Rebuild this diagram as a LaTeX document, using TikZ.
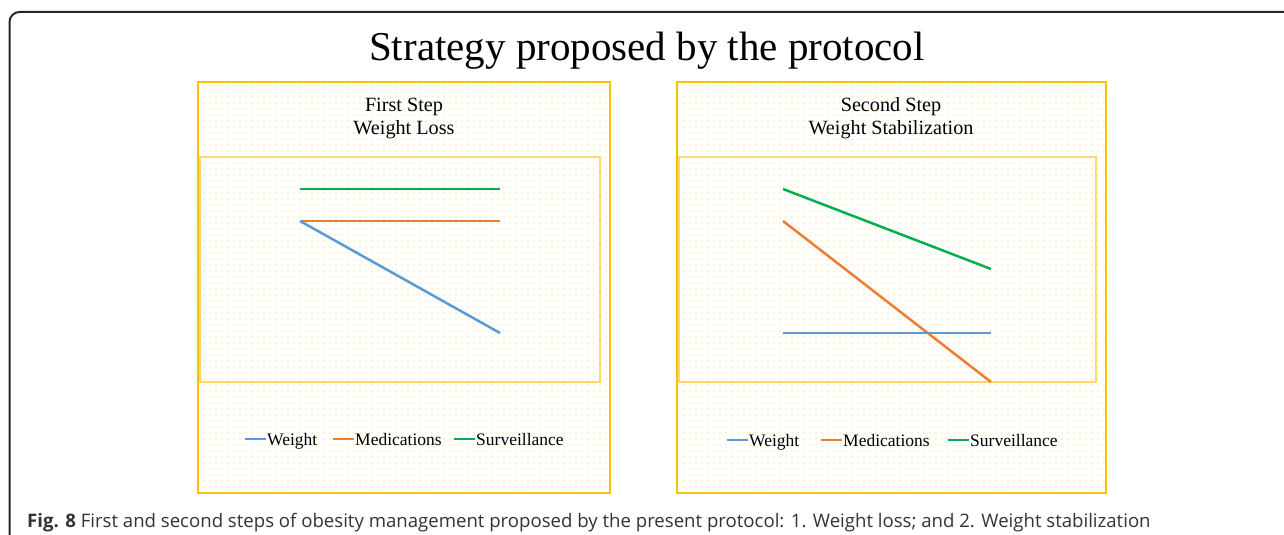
\documentclass[tikz,border=0pt]{standalone}
\usepackage{fontspec}
\setmainfont{Liberation Serif}
\newfontfamily\capfont{Open Sans}
\usepackage{tikz}
\usetikzlibrary{patterns.meta}
\definecolor{gold}{HTML}{FFC000}
\definecolor{goldlight}{HTML}{FFD966}
\definecolor{wblue}{HTML}{5B9BD5}
\definecolor{morange}{HTML}{ED7D31}
\definecolor{sgreen}{HTML}{00B050}

\begin{document}
\begin{tikzpicture}[x=1pt, y=-1pt,
        chartbox/.style = {draw=gold, line width=2pt,
                           pattern={Dots[distance=6pt, radius=0.7pt]},
                           pattern color=gold!80},
        plotbox/.style  = {draw=goldlight, line width=1.2pt},
        series/.style   = {line width=2.5pt},
        key/.style      = {line width=2.5pt},
        lbl/.style      = {font=\fontsize{17.5}{20}\selectfont,
                           inner sep=0pt, anchor=base west},
        steptitle/.style = {font=\fontsize{20.2}{23}\selectfont,
                           align=center, inner sep=0pt, anchor=base}]
    \useasboundingbox (0,0) rectangle (1284,535);
    % frame of the figure
    \draw[line width=2pt, black!85, rounded corners=10pt]
        (9.5,535) -- (9.5,12) -- (1284,12);
    \node[anchor=base, font=\fontsize{41}{48}\selectfont] (title)
        at (647,60) {Strategy proposed by the protocol};

    % first step
    \path[chartbox] (198,82) rectangle (610,493);
    \draw[plotbox] (200,157) rectangle (600,382);
    \node[steptitle] (first) at (404,134) {First Step\\Weight Loss};
    \coordinate (fs1) at (300,189);
    \coordinate (fs2) at (500,189);
    \coordinate (fm1) at (300,221);
    \coordinate (fm2) at (500,221);
    \coordinate (fw1) at (300,221);
    \coordinate (fw2) at (500,333);
    \draw[series, sgreen]  (fs1) -- (fs2);
    \draw[series, morange] (fm1) -- (fm2);
    \draw[series, wblue]   (fw1) -- (fw2);
    \node[lbl] (fkw) at (267,445) {Weight};
    \node[lbl] (fkm) at (355,445) {Medications};
    \node[lbl] (fks) at (476,445) {Surveillance};
    \draw[key, wblue]   ([shift={(-22,-6)}]fkw.base west) -- ([shift={(-1,-6)}]fkw.base west);
    \draw[key, morange] ([shift={(-22,-6)}]fkm.base west) -- ([shift={(-1,-6)}]fkm.base west);
    \draw[key, sgreen]  ([shift={(-22,-6)}]fks.base west) -- ([shift={(-1,-6)}]fks.base west);

    % second step
    \path[chartbox] (677,82) rectangle (1106,493);
    \draw[plotbox] (679,157) rectangle (1096,382);
    \node[steptitle] (second) at (891,134) {Second Step\\Weight Stabilization};
    \coordinate (ss1) at (783,189);
    \coordinate (ss2) at (991,269);
    \coordinate (sm1) at (783,221);
    \coordinate (sm2) at (991,382);
    \coordinate (sw1) at (783,333);
    \coordinate (sw2) at (991,333);
    \draw[series, sgreen]  (ss1) -- (ss2);
    \draw[series, morange] (sm1) -- (sm2);
    \draw[series, wblue]   (sw1) -- (sw2);
    \node[lbl] (skw) at (749,446) {Weight};
    \node[lbl] (skm) at (843,446) {Medications};
    \node[lbl] (sks) at (970,446) {Surveillance};
    \draw[key, wblue]   ([shift={(-22,-6)}]skw.base west) -- ([shift={(-1,-6)}]skw.base west);
    \draw[key, morange] ([shift={(-22,-6)}]skm.base west) -- ([shift={(-1,-6)}]skm.base west);
    \draw[key, sgreen]  ([shift={(-22,-6)}]sks.base west) -- ([shift={(-1,-6)}]sks.base west);

    % caption
    \node[anchor=base west, inner sep=0pt, text=black!80,
          font=\capfont\fontsize{18.6}{22}\selectfont] (caption) at (27,527)
        {\textbf{Fig. 8} First and second steps of obesity management proposed by the present protocol: 1. Weight loss; and 2. Weight stabilization};
\end{tikzpicture}
\end{document}
